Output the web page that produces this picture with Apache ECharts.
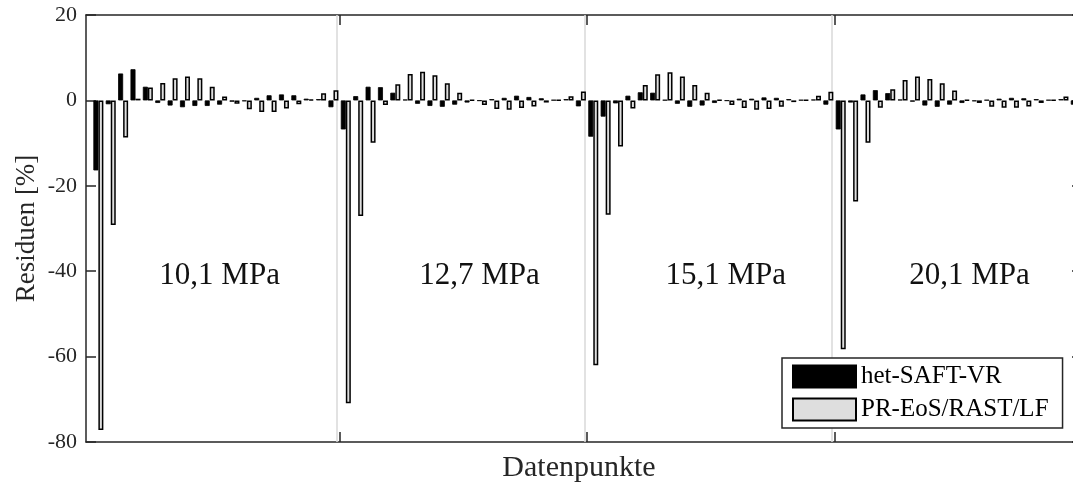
<!DOCTYPE html>
<html>
<head>
<meta charset="utf-8">
<script src="https://cdn.jsdelivr.net/npm/echarts@6/dist/echarts.min.js"></script>
<style>
  html, body { margin: 0; padding: 0; background: #fff; }
  #chart { width: 1073px; height: 485px; }
</style>
</head>
<body>
<div id="chart"></div>
<script>
// Residuals [%] of two adsorption models, 20 data points per pressure level
const pressureLevels = ['10,1 MPa', '12,7 MPa', '15,1 MPa', '20,1 MPa'];

const saft101 = [-16.4, -0.9, 6.3, 7.3, 3.2, -0.6, -1.2, -1.6, -1.3, -1.3, -1.0, -0.3, -0.2, 0.6, 1.2, 1.4, 1.2, 0.4, 0.3, -1.6];
const pr101   = [-77.2, -29.2, -8.7, 0.4, 3.0, 4.1, 5.2, 5.6, 5.2, 3.2, 0.9, -0.8, -2.1, -2.7, -2.7, -1.9, -0.9, 0.2, 1.7, 2.4];

const saft127 = [-6.8, 1.0, 3.2, 3.1, 1.8, 0.2, -0.8, -1.3, -1.5, -1.0, -0.5, -0.1, 0.3, 0.6, 1.1, 0.8, 0.5, 0.1, 0.3, -1.4];
const pr127   = [-70.9, -27.1, -9.9, -1.1, 3.8, 6.2, 6.7, 5.9, 4.0, 1.8, 0.1, -1.1, -2.0, -2.2, -1.8, -1.4, -0.5, 0.1, 1.0, 2.1];

const saft151 = [-8.5, -3.8, -0.7, 1.1, 1.9, 1.8, 0.1, -0.8, -1.5, -1.2, -0.6, -0.1, 0.4, 0.4, 0.7, 0.6, 0.3, 0.1, 0.2, -1.0];
const pr151   = [-62.0, -26.8, -10.8, -1.9, 3.6, 6.1, 6.6, 5.6, 3.6, 1.8, 0.1, -1.1, -1.8, -2.2, -2.0, -1.5, -0.4, 0.1, 1.1, 2.0];

const saft201 = [-6.8, -0.5, 1.4, 2.4, 1.7, 0.2, -0.3, -1.2, -1.5, -1.0, -0.6, -0.2, 0.1, 0.4, 0.6, 0.5, 0.3, 0.1, 0.3, -1.0];
const pr201   = [-58.3, -23.7, -9.9, -1.7, 2.6, 4.8, 5.6, 5.0, 4.0, 2.3, 0.1, -0.6, -1.5, -1.7, -1.7, -1.4, -0.6, 0.1, 0.9, 1.8];

const yTicks = [-80, -60, -40, -20, 0, 20];

// points are numbered 1..80; level boundaries sit halfway between blocks
const saftAll = [].concat(saft101, saft127, saft151, saft201);
const prAll = [].concat(pr101, pr127, pr151, pr201);
const toPairs = arr => arr.map((v, i) => [i + 1, v]);
const boundaries = [20.5, 40.5, 60.5];

// text anchors for the pressure annotations (data coordinates)
const levelAnchorX = [10.8, 31.8, 51.7, 71.4];
const levelAnchorY = -41;

const FONT = 'Liberation Serif';
const AX = '#262626';
const BAR_W = 5;

const chart = echarts.init(document.getElementById('chart'), null, { renderer: 'canvas' });

const xCommon = {
  type: 'value', min: 0, max: 80.5,
  axisLine: { show: true, onZero: false, lineStyle: { color: AX, width: 1.5 } },
  axisTick: { show: true, inside: true, length: 10, customValues: boundaries, lineStyle: { color: AX, width: 1.5 } },
  axisLabel: { show: false },
  splitLine: { show: false }
};
const yCommon = {
  type: 'value', min: yTicks[0], max: yTicks[yTicks.length - 1], interval: 20,
  axisLine: { show: true, onZero: false, lineStyle: { color: AX, width: 1.5 } },
  axisTick: { show: true, inside: true, length: 10, lineStyle: { color: AX, width: 1.5 } },
  splitLine: { show: false }
};

chart.setOption({
  animation: false,
  backgroundColor: '#fff',
  // the frame runs a little past the right edge of the canvas
  grid: { left: 86, top: 15, width: 996, height: 427, containLabel: false, outerBoundsMode: 'none' },
  xAxis: [
    Object.assign({}, xCommon, {
      position: 'bottom',
      name: 'Datenpunkte', nameLocation: 'middle', nameGap: 11, nameMoveOverlap: false,
      nameTextStyle: { fontFamily: FONT, fontSize: 30, color: AX, padding: [0, 10, 0, 0] }
    }),
    Object.assign({}, xCommon, { position: 'top' })
  ],
  yAxis: [
    Object.assign({}, yCommon, {
      position: 'left',
      axisLabel: { show: true, margin: 9, fontFamily: FONT, fontSize: 22, color: AX,
        formatter: v => String(v) },
      name: 'Residuen [%]', nameLocation: 'middle', nameGap: 46, nameMoveOverlap: false,
      nameTextStyle: { fontFamily: FONT, fontSize: 27, color: AX }
    }),
    Object.assign({}, yCommon, { position: 'right', axisLabel: { show: false } })
  ],
  legend: {
    data: ['het-SAFT-VR', 'PR-EoS/RAST/LF'],
    orient: 'vertical',
    left: 782, top: 358,
    icon: 'rect',
    itemWidth: 63, itemHeight: 22, itemGap: 8,
    padding: [6, 14, 6, 10],
    backgroundColor: '#fff',
    borderColor: AX, borderWidth: 1.5, borderRadius: 0,
    textStyle: { fontFamily: FONT, fontSize: 25, color: '#000' }
  },
  series: [
    {
      name: 'het-SAFT-VR',
      type: 'bar',
      xAxisIndex: 0, yAxisIndex: 0,
      barWidth: BAR_W, barGap: '0%',
      itemStyle: { color: '#000', borderColor: '#000', borderWidth: 0.8 },
      data: toPairs(saftAll),
      z: 3,
      markLine: {
        silent: true, symbol: ['none', 'none'], z: 1,
        label: { show: false },
        lineStyle: { color: '#d9d9d9', width: 1.5, type: 'solid' },
        data: boundaries.map(b => ({ xAxis: b }))
      }
    },
    {
      name: 'PR-EoS/RAST/LF',
      type: 'bar',
      xAxisIndex: 0, yAxisIndex: 0,
      barWidth: BAR_W, barGap: '0%',
      itemStyle: { color: '#dedede', borderColor: '#000', borderWidth: 1.5 },
      data: toPairs(prAll),
      z: 3
    },
    {
      name: 'levels',
      type: 'scatter',
      xAxisIndex: 0, yAxisIndex: 0,
      symbolSize: 0,
      itemStyle: { color: '#000', opacity: 1 },
      silent: true,
      label: {
        show: true, position: [0, 0], align: 'center', verticalAlign: 'middle',
        fontFamily: FONT, fontSize: 31, color: '#111', opacity: 1,
        formatter: p => p.data[2]
      },
      data: pressureLevels.map((t, i) => [levelAnchorX[i], levelAnchorY, t]),
      z: 4
    }
  ]
});
</script>
</body>
</html>
